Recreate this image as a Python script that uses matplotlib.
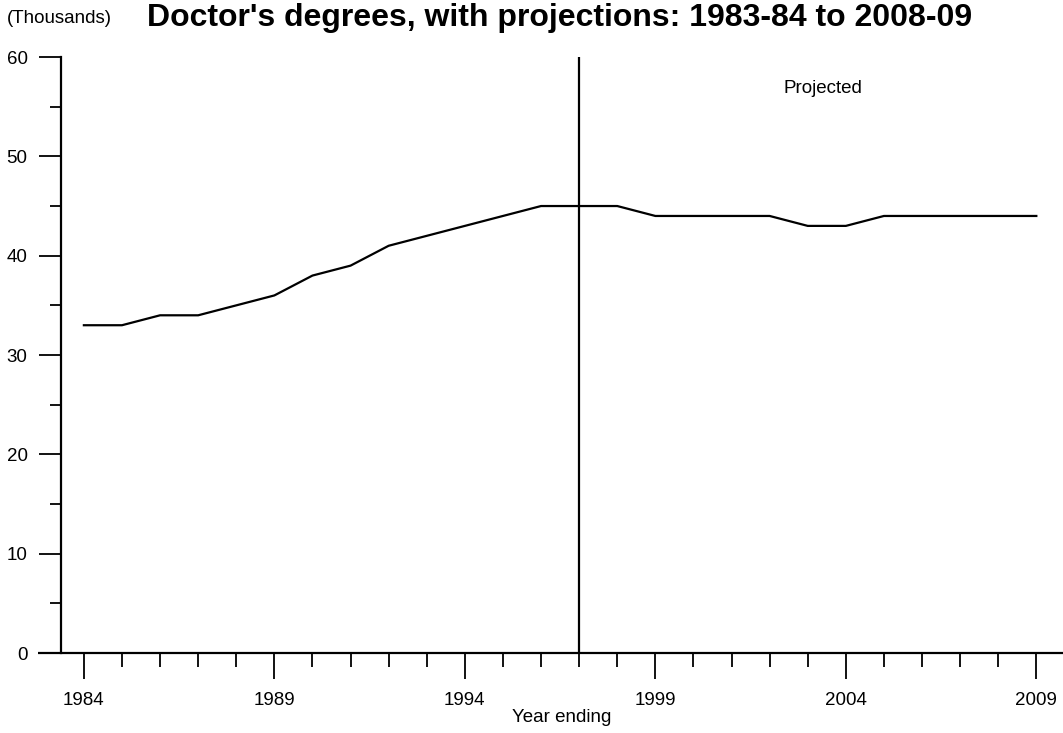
import matplotlib.pyplot as plt
from matplotlib.ticker import MultipleLocator

plt.rcParams['font.family'] = ['Liberation Sans', 'DejaVu Sans']

# Doctor's degrees conferred (thousands), year ending
years = [1984, 1985, 1986, 1987, 1988, 1989, 1990, 1991, 1992, 1993, 1994, 1995, 1996,
         1997, 1998, 1999, 2000, 2001, 2002, 2003, 2004, 2005, 2006, 2007, 2008, 2009]
degrees = [33, 33, 34, 34, 35, 36, 38, 39, 41, 42, 43, 44, 45,
           45, 45, 44, 44, 44, 44, 43, 43, 44, 44, 44, 44, 44]
split_year = 1997
major_ticks = [1984, 1989, 1994, 1999, 2004, 2009]

fig = plt.figure(figsize=(10.63, 7.33), dpi=100)
ax = fig.add_axes([0.0574, 0.1091, 0.9426, 0.8131])

ax.plot(years, degrees, color='black', lw=1.6)
ax.axvline(split_year, color='black', lw=1.6)
ax.text(2003.4, 56.8, 'Projected', ha='center', va='center', fontsize=13.5)

ax.set_xlim(1983.4, 2009.7)
ax.set_ylim(0, 60)

ax.spines['top'].set_visible(False)
ax.spines['right'].set_visible(False)
ax.spines['left'].set_linewidth(1.6)
ax.spines['bottom'].set_visible(False)
# x axis line runs a bit left of the y axis, as in the original
ax.plot([1982.8, 2009.7], [0, 0], color='black', lw=1.6, clip_on=False,
        solid_capstyle='butt')

ax.set_xticks(major_ticks)
ax.xaxis.set_minor_locator(MultipleLocator(1))
ax.set_yticks(range(0, 61, 10))
ax.yaxis.set_minor_locator(MultipleLocator(5))

ax.tick_params(axis='x', which='major', length=19, width=1.3, pad=9, labelsize=13.5)
ax.tick_params(axis='x', which='minor', length=10, width=1.3)
ax.tick_params(axis='y', which='major', length=16, width=1.3, pad=8, labelsize=13.5)
ax.tick_params(axis='y', which='minor', length=8, width=1.3)

ax.set_xlabel('Year ending', fontsize=13.5, labelpad=0)

fig.text(0.006, 0.975, '(Thousands)', ha='left', va='center', fontsize=13.5)
fig.text(0.526, 0.964, "Doctor's degrees, with projections: 1983-84 to 2008-09",
         ha='center', va='baseline', fontsize=23, fontweight='bold')

fig.savefig('out.png', dpi=100)
